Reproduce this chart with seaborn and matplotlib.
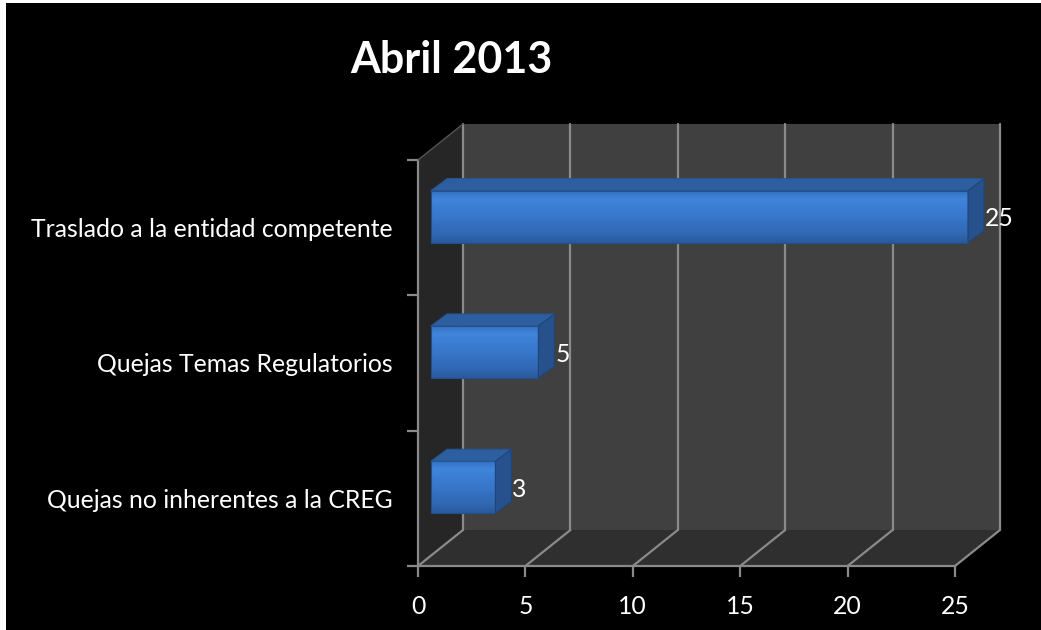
import numpy as np
import pandas as pd
import matplotlib
matplotlib.use("Agg")
import matplotlib.pyplot as plt
from matplotlib.patches import Polygon, Rectangle
from matplotlib.transforms import ScaledTranslation
from matplotlib.colors import LinearSegmentedColormap
import seaborn as sns

# data
categorias = ["Traslado a la entidad competente",
              "Quejas Temas Regulatorios",
              "Quejas no inherentes a la CREG"]
valores = [25, 5, 3]
x_ticks = [0, 5, 10, 15, 20, 25]
titulo = "Abril 2013"

df = pd.DataFrame({"categoria": categorias, "valor": valores})

sns.set_theme(style="white")
plt.rcParams['font.family'] = ['Lato', 'DejaVu Sans']

W, H = 1041, 630
fig = plt.figure(figsize=(W / 100, H / 100), dpi=100)
fig.patch.set_facecolor("white")
fig.add_artist(Rectangle((6 / W, 0), 1, 1 - 3 / H, transform=fig.transFigure,
                         facecolor="black", edgecolor="none", zorder=-10))

# front plane of the 3d box
ax = fig.add_axes([418 / W, (H - 566) / H, 537 / W, 406 / H])
ax.set_facecolor("none")

def shift(px, py):
    # offset in pixels (y up) on top of data coords
    return ax.transData + ScaledTranslation(px / 100, py / 100, fig.dpi_scale_trans)

sns.barplot(data=df, x="valor", y="categoria", orient="h", ax=ax,
            color="#3876c8", width=0.385, saturation=1, edgecolor="#22508f", linewidth=0.8)
ax.set_xlim(0, 25)
ax.set_ylim(2.5, -0.5)

# depth of the box
DX, DY = 45, 36
y0, y1 = 2.5, -0.5
gray_line = "#8a8a8a"

# back wall
wall = Rectangle((0, y1), 25, y0 - y1, facecolor="#404040", edgecolor="none",
                 transform=shift(DX, DY), clip_on=False, zorder=0)
ax.add_patch(wall)
tf0 = ax.transData
def to_px(x, y, dx=0, dy=0):
    p = tf0.transform((x, y))
    return (p[0] + dx, p[1] + dy)

side = Polygon([to_px(0, y0), to_px(0, y1), to_px(0, y1, DX, DY), to_px(0, y0, DX, DY)],
               closed=True, transform=None, facecolor="#262626", edgecolor="none", zorder=0)
floor = Polygon([to_px(0, y0), to_px(25, y0), to_px(25, y0, DX, DY), to_px(0, y0, DX, DY)],
                closed=True, transform=None, facecolor="#2f2f2f", edgecolor="none", zorder=0)
fig.add_artist(side)
fig.add_artist(floor)

for xv in x_ticks:
    ax.plot([xv, xv], [y0, y1], color=gray_line, lw=1.6, transform=shift(DX, DY),
            clip_on=False, zorder=1)
    a = to_px(xv, y0)
    b = to_px(xv, y0, DX, DY)
    fig.add_artist(plt.Line2D([a[0], b[0]], [a[1], b[1]], transform=None,
                              color=gray_line, lw=1.6, zorder=1))
a = to_px(0, y1)
b = to_px(0, y1, DX, DY)
fig.add_artist(plt.Line2D([a[0], b[0]], [a[1], b[1]], transform=None,
                          color="#555555", lw=1, zorder=1))

# bars: move front face into the box and add top / side faces
FX, FY = 13, 11
BX, BY = 29, 23
grad = LinearSegmentedColormap.from_list(
    "barra", ["#3470bd", "#4085dc", "#3b7dd3", "#3877cb", "#346fbf", "#3068b3", "#2a5a9b"])
for p in list(ax.patches):
    if p is wall:
        continue
    x, y, w, h = p.get_x(), p.get_y(), p.get_width(), p.get_height()
    p.set_transform(shift(FX, FY))
    p.set_clip_on(False)
    p.set_zorder(5)
    p.set_facecolor("none")
    img = ax.imshow(np.linspace(0, 1, 64).reshape(-1, 1), cmap=grad, aspect="auto",
                    extent=(x, x + w, y + h, y), transform=shift(FX, FY),
                    zorder=4, interpolation="bilinear")
    img.set_clip_path(p)
    top = Polygon([to_px(x, y, FX, FY), to_px(x + w, y, FX, FY),
                   to_px(x + w, y, BX, BY), to_px(x, y, BX, BY)],
                  closed=True, transform=None, facecolor="#2d5fa0",
                  edgecolor="#27548f", lw=0.8, zorder=3)
    sd = Polygon([to_px(x + w, y, FX, FY), to_px(x + w, y + h, FX, FY),
                  to_px(x + w, y + h, BX, BY), to_px(x + w, y, BX, BY)],
                 closed=True, transform=None, facecolor="#26518c",
                 edgecolor="#1f4679", lw=0.8, zorder=3)
    fig.add_artist(top)
    fig.add_artist(sd)
    ax.annotate(f"{w:g}", xy=(x + w, y + h / 2), xytext=(BX + 1, FY - 2),
                textcoords="offset pixels", ha="left", va="center",
                color="white", fontsize=17.8, zorder=6, annotation_clip=False)
ax.set_xlim(0, 25)
ax.set_ylim(2.5, -0.5)

# axes styling
for s in ["top", "right"]:
    ax.spines[s].set_visible(False)
for s in ["left", "bottom"]:
    ax.spines[s].set_color(gray_line)
    ax.spines[s].set_linewidth(1.6)
    ax.spines[s].set_zorder(2)

ax.set_xticks(x_ticks)
ax.set_xticklabels([str(t) for t in x_ticks])
ax.set_yticks([-0.5, 0.5, 1.5, 2.5], minor=True)
ax.tick_params(axis="y", which="minor", left=True, length=8, width=1.6, color=gray_line)
ax.tick_params(axis="y", which="major", left=False, length=0, pad=18.5,
               labelcolor="white", labelsize=17.8)
ax.tick_params(axis="x", bottom=True, length=8, width=1.6, color=gray_line,
               pad=13, labelcolor="white", labelsize=17.8)
ax.set_xlabel("")
ax.set_ylabel("")

fig.text(451 / W, 1 - 60 / H, titulo, ha="center", va="center", color="white",
         fontsize=31, fontweight="bold")

fig.savefig("out.png", dpi=100, facecolor=fig.get_facecolor())
